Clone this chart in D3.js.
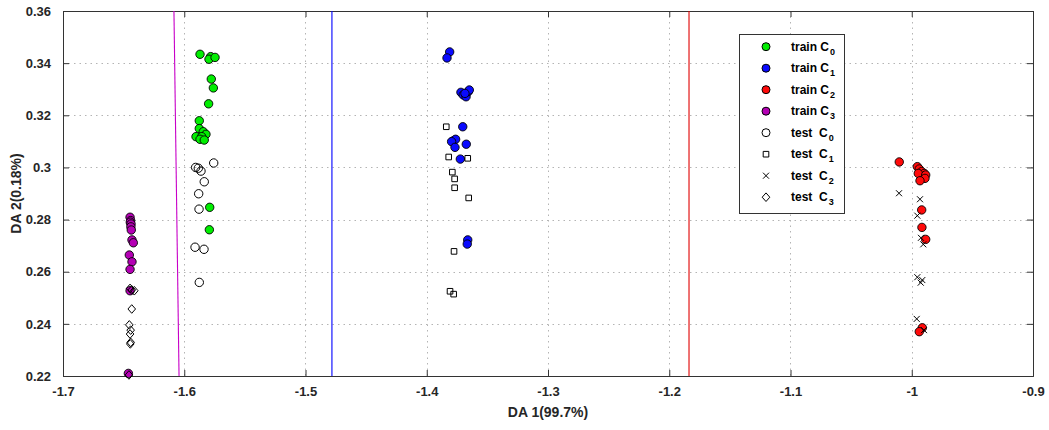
<!DOCTYPE html>
<html>
<head>
<meta charset="utf-8">
<script src="https://cdn.jsdelivr.net/npm/d3@7"></script>
<style>
  html, body { margin: 0; padding: 0; background: #fff; }
  svg { display: block; font-family: "Liberation Sans", Arial, Helvetica, sans-serif; }
</style>
</head>
<body>
<svg id="chart" width="1049" height="430"></svg>
<script>
// Discriminant-analysis projection: training samples (filled circles) and test samples (open markers)
const xTicks = [-1.7, -1.6, -1.5, -1.4, -1.3, -1.2, -1.1, -1, -0.9];
const yTicks = [0.22, 0.24, 0.26, 0.28, 0.3, 0.32, 0.34, 0.36];
const xTickLabels = ["-1.7", "-1.6", "-1.5", "-1.4", "-1.3", "-1.2", "-1.1", "-1", "-0.9"];
const yTickLabels = ["0.22", "0.24", "0.26", "0.28", "0.3", "0.32", "0.34", "0.36"];

const trainC0 = [
  [-1.5870, 0.3434], [-1.5782, 0.3425], [-1.5796, 0.3415], [-1.5746, 0.3422],
  [-1.5777, 0.3339], [-1.5760, 0.3305], [-1.5799, 0.3244], [-1.5876, 0.3179],
  [-1.5876, 0.3149], [-1.5843, 0.3137], [-1.5821, 0.3127], [-1.5903, 0.3118],
  [-1.5856, 0.3118], [-1.5870, 0.3108], [-1.5835, 0.3105], [-1.5790, 0.2847],
  [-1.5793, 0.2761]
];
const trainC1 = [
  [-1.3811, 0.3443], [-1.3833, 0.3420], [-1.3718, 0.3288], [-1.3699, 0.3278],
  [-1.3676, 0.3271], [-1.3657, 0.3291], [-1.3649, 0.3297], [-1.3685, 0.3284],
  [-1.3703, 0.3156], [-1.3781, 0.3102], [-1.3762, 0.3108], [-1.3795, 0.3099],
  [-1.3767, 0.3077], [-1.3674, 0.3089], [-1.3723, 0.3032], [-1.3662, 0.2722],
  [-1.3666, 0.2706]
];
const trainC2 = [
  [-1.0103, 0.3021], [-0.9954, 0.3003], [-0.9938, 0.2994], [-0.9918, 0.2984],
  [-0.9897, 0.2977], [-0.9946, 0.2977], [-0.9885, 0.2971], [-0.9891, 0.2958],
  [-0.9932, 0.2949], [-0.9918, 0.2837], [-0.9916, 0.2770], [-0.9885, 0.2724],
  [-0.9913, 0.2385], [-0.9938, 0.2370]
];
const trainC3 = [
  [-1.6447, 0.2809], [-1.6442, 0.2796], [-1.6445, 0.2790], [-1.6439, 0.2783],
  [-1.6440, 0.2772], [-1.6437, 0.2760], [-1.6431, 0.2722], [-1.6420, 0.2711],
  [-1.6453, 0.2664], [-1.6431, 0.2638], [-1.6447, 0.2609], [-1.6447, 0.2527],
  [-1.6461, 0.2210]
];
const testC0 = [
  [-1.5757, 0.3017], [-1.5906, 0.3000], [-1.5884, 0.2997], [-1.5862, 0.2986],
  [-1.5835, 0.2945], [-1.5881, 0.2899], [-1.5878, 0.2840], [-1.5911, 0.2694],
  [-1.5837, 0.2686], [-1.5876, 0.2559]
];
const testC1 = [
  [-1.3839, 0.3156], [-1.3819, 0.3040], [-1.3662, 0.3035], [-1.3789, 0.2982],
  [-1.3770, 0.2956], [-1.3770, 0.2922], [-1.3654, 0.2883], [-1.3775, 0.2678],
  [-1.3808, 0.2525], [-1.3778, 0.2514]
];
const testC2 = [
  [-1.0105, 0.2901], [-0.9932, 0.2878], [-0.9954, 0.2815], [-0.9924, 0.2730],
  [-0.9905, 0.2705], [-0.9954, 0.2579], [-0.9913, 0.2568], [-0.9926, 0.2558],
  [-0.9959, 0.2419], [-0.9899, 0.2376]
];
const testC3 = [
  [-1.6447, 0.2536], [-1.6433, 0.2530], [-1.6412, 0.2527], [-1.6433, 0.2457],
  [-1.6453, 0.2396], [-1.6442, 0.2376], [-1.6447, 0.2361], [-1.6442, 0.2329],
  [-1.6445, 0.2323], [-1.6456, 0.2204]
];

// Decision boundaries between neighbouring classes: [x at top, x at bottom]
const boundaryC3C0 = [-1.6085, -1.6043];
const boundaryC0C1 = [-1.4782, -1.4782];
const boundaryC1C2 = [-1.1837, -1.1837];

const legendLabels = ["train", "train", "train", "train", "test ", "test ", "test ", "test "];
const legendIndex = ["0", "1", "2", "3", "0", "1", "2", "3"];

const svg = d3.select("#chart");
const m = { left: 63, right: 1033, top: 11, bottom: 376 };

const x = d3.scaleLinear().domain([-1.7, -0.9]).range([m.left, m.right]);
const y = d3.scaleLinear().domain([0.22, 0.36]).range([m.bottom, m.top]);

svg.append("rect").attr("width", 1049).attr("height", 430).attr("fill", "#fff");

// dotted grid
const grid = svg.append("g").attr("stroke", "#b4b4b4").attr("stroke-width", 1)
  .attr("stroke-dasharray", "1.5,4");
grid.selectAll("line.gx").data(xTicks.slice(1, -1)).join("line")
  .attr("x1", d => Math.round(x(d)) + 0.5).attr("x2", d => Math.round(x(d)) + 0.5)
  .attr("y1", m.top).attr("y2", m.bottom);
grid.selectAll("line.gy").data(yTicks.slice(1, -1)).join("line")
  .attr("y1", d => Math.round(y(d)) + 0.5).attr("y2", d => Math.round(y(d)) + 0.5)
  .attr("x1", m.left).attr("x2", m.right);

// axes (ticks inward, box on)
const fontTick = "bold 13px 'Liberation Sans', Arial, sans-serif";
const xAxis = d3.axisBottom(x).tickValues(xTicks).tickSize(-6).tickPadding(11)
  .tickFormat((d, i) => xTickLabels[i]);
const yAxis = d3.axisLeft(y).tickValues(yTicks).tickSize(-6).tickPadding(12)
  .tickFormat((d, i) => yTickLabels[i]);
const xTop = d3.axisTop(x).tickValues(xTicks).tickSize(-6).tickFormat("");
const yRight = d3.axisRight(y).tickValues(yTicks).tickSize(-6).tickFormat("");

function styleAxis(g) {
  g.select(".domain").attr("stroke", "#333");
  g.selectAll(".tick line").attr("stroke", "#333");
  g.selectAll("text").attr("fill", "#262626").style("font", fontTick);
}
svg.append("g").attr("transform", `translate(0,${m.bottom})`).call(xAxis).call(styleAxis);
svg.append("g").attr("transform", `translate(${m.left},0)`).call(yAxis).call(styleAxis);
svg.append("g").attr("transform", `translate(0,${m.top})`).call(xTop).call(styleAxis);
svg.append("g").attr("transform", `translate(${m.right},0)`).call(yRight).call(styleAxis);

// decision boundary lines
const boundaries = [
  { v: boundaryC3C0, c: "#c800c8" },
  { v: boundaryC0C1, c: "#0000ff" },
  { v: boundaryC1C2, c: "#e00000" }
];
svg.append("g").selectAll("line").data(boundaries).join("line")
  .attr("x1", d => x(d.v[0])).attr("y1", y(0.36))
  .attr("x2", d => x(d.v[1])).attr("y2", y(0.22))
  .attr("stroke", d => d.c).attr("stroke-width", 1.1);

// marker shapes
const squarePath = "M-2.8,-2.8H2.8V2.8H-2.8Z";
const crossPath = "M-3,-3L3,3M-3,3L3,-3";
const diamondPath = "M0,-4.3L3.8,0L0,4.3L-3.8,0Z";

const trainSets = [
  { data: trainC0, fill: "#00ee00" },
  { data: trainC1, fill: "#0a0aff" },
  { data: trainC2, fill: "#ff0a0a" },
  { data: trainC3, fill: "#b400b4" }
];
const pts = svg.append("g");
trainSets.forEach(s => {
  pts.append("g").selectAll("circle").data(s.data).join("circle")
    .attr("cx", d => x(d[0])).attr("cy", d => y(d[1])).attr("r", 4.2)
    .attr("fill", s.fill).attr("stroke", "#000").attr("stroke-width", 0.9);
});
pts.append("g").selectAll("circle").data(testC0).join("circle")
  .attr("cx", d => x(d[0])).attr("cy", d => y(d[1])).attr("r", 4.2)
  .attr("fill", "none").attr("stroke", "#000").attr("stroke-width", 1);
const testPaths = [
  { data: testC1, p: squarePath },
  { data: testC2, p: crossPath },
  { data: testC3, p: diamondPath }
];
testPaths.forEach(s => {
  pts.append("g").selectAll("path").data(s.data).join("path")
    .attr("transform", d => `translate(${x(d[0])},${y(d[1])})`)
    .attr("d", s.p).attr("fill", "none").attr("stroke", "#000").attr("stroke-width", 1);
});

// axis titles
svg.append("text").attr("x", (m.left + m.right) / 2).attr("y", 417)
  .attr("text-anchor", "middle").attr("fill", "#262626")
  .style("font", "bold 14px 'Liberation Sans', Arial, sans-serif").text("DA 1(99.7%)");
svg.append("text").attr("transform", `translate(21,${(m.top + m.bottom) / 2}) rotate(-90)`)
  .attr("text-anchor", "middle").attr("fill", "#262626")
  .style("font", "bold 14px 'Liberation Sans', Arial, sans-serif").text("DA 2(0.18%)");

// legend
const lg = svg.append("g");
lg.append("rect").attr("x", 739.5).attr("y", 34.5).attr("width", 105).attr("height", 179)
  .attr("fill", "#fff").attr("stroke", "#333").attr("stroke-width", 1);
const legendMarks = [
  { t: "c", f: "#00ee00" }, { t: "c", f: "#0a0aff" }, { t: "c", f: "#ff0a0a" }, { t: "c", f: "#b400b4" },
  { t: "c", f: "none" }, { t: "p", p: squarePath }, { t: "p", p: crossPath }, { t: "p", p: diamondPath }
];
legendMarks.forEach((mk, i) => {
  const cy = 46.7 + i * 21.5;
  if (mk.t === "c") {
    lg.append("circle").attr("cx", 766).attr("cy", cy).attr("r", 4)
      .attr("fill", mk.f).attr("stroke", "#000").attr("stroke-width", 1);
  } else {
    lg.append("path").attr("transform", `translate(766,${cy})`).attr("d", mk.p)
      .attr("fill", "none").attr("stroke", "#000").attr("stroke-width", 1);
  }
  const t = lg.append("text").attr("x", 791).attr("y", cy + 4).attr("fill", "#000")
    .attr("xml:space", "preserve")
    .style("font", "bold 12px 'Liberation Sans', Arial, sans-serif").style("white-space", "pre");
  t.append("tspan").text(legendLabels[i] + " C");
  t.append("tspan").attr("dy", 4).attr("dx", 1).style("font-size", "9px").text(legendIndex[i]);
});
</script>
</body>
</html>
